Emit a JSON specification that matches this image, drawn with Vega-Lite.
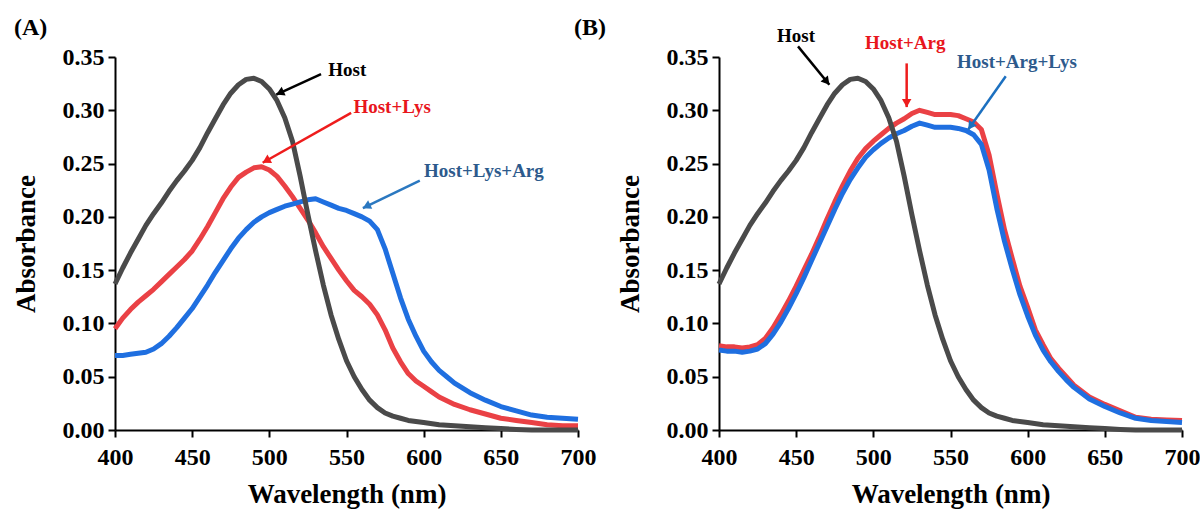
{
  "$schema": "https://vega.github.io/schema/vega-lite/v6.json",
  "padding": {"left": 12, "top": 16, "right": 2, "bottom": 2},
  "background": "white",
  "config": {
    "view": {"stroke": null},
    "font": "Times New Roman, Liberation Serif, DejaVu Serif, serif",
    "title": {"font": "Times New Roman, Liberation Serif, DejaVu Serif, serif", "fontSize": 24, "fontWeight": "bold", "color": "#000000", "anchor": "start", "frame": "group"},
    "axis": {
      "labelFont": "Times New Roman, Liberation Serif, DejaVu Serif, serif", "labelFontWeight": "bold", "labelFontSize": 24, "labelColor": "#000000",
      "titleFont": "Times New Roman, Liberation Serif, DejaVu Serif, serif", "titleFontWeight": "bold", "titleFontSize": 27, "titleColor": "#000000",
      "domainColor": "#000000", "domainWidth": 2, "tickColor": "#000000", "tickWidth": 2, "grid": false
    }
  },
  "bounds": "flush",
  "spacing": 141,
  "datasets": {
    "spectra": [
      {"panel":"A","series":"Host+Lys","wavelength":400,"absorbance":0.095},
      {"panel":"A","series":"Host+Lys","wavelength":405,"absorbance":0.105},
      {"panel":"A","series":"Host+Lys","wavelength":410,"absorbance":0.113},
      {"panel":"A","series":"Host+Lys","wavelength":415,"absorbance":0.120},
      {"panel":"A","series":"Host+Lys","wavelength":420,"absorbance":0.126},
      {"panel":"A","series":"Host+Lys","wavelength":425,"absorbance":0.132},
      {"panel":"A","series":"Host+Lys","wavelength":430,"absorbance":0.139},
      {"panel":"A","series":"Host+Lys","wavelength":435,"absorbance":0.146},
      {"panel":"A","series":"Host+Lys","wavelength":440,"absorbance":0.153},
      {"panel":"A","series":"Host+Lys","wavelength":445,"absorbance":0.160},
      {"panel":"A","series":"Host+Lys","wavelength":450,"absorbance":0.168},
      {"panel":"A","series":"Host+Lys","wavelength":455,"absorbance":0.179},
      {"panel":"A","series":"Host+Lys","wavelength":460,"absorbance":0.191},
      {"panel":"A","series":"Host+Lys","wavelength":465,"absorbance":0.204},
      {"panel":"A","series":"Host+Lys","wavelength":470,"absorbance":0.217},
      {"panel":"A","series":"Host+Lys","wavelength":475,"absorbance":0.228},
      {"panel":"A","series":"Host+Lys","wavelength":480,"absorbance":0.237},
      {"panel":"A","series":"Host+Lys","wavelength":485,"absorbance":0.242},
      {"panel":"A","series":"Host+Lys","wavelength":490,"absorbance":0.246},
      {"panel":"A","series":"Host+Lys","wavelength":495,"absorbance":0.247},
      {"panel":"A","series":"Host+Lys","wavelength":500,"absorbance":0.244},
      {"panel":"A","series":"Host+Lys","wavelength":505,"absorbance":0.238},
      {"panel":"A","series":"Host+Lys","wavelength":510,"absorbance":0.229},
      {"panel":"A","series":"Host+Lys","wavelength":515,"absorbance":0.219},
      {"panel":"A","series":"Host+Lys","wavelength":520,"absorbance":0.208},
      {"panel":"A","series":"Host+Lys","wavelength":525,"absorbance":0.197},
      {"panel":"A","series":"Host+Lys","wavelength":530,"absorbance":0.185},
      {"panel":"A","series":"Host+Lys","wavelength":535,"absorbance":0.172},
      {"panel":"A","series":"Host+Lys","wavelength":540,"absorbance":0.161},
      {"panel":"A","series":"Host+Lys","wavelength":545,"absorbance":0.150},
      {"panel":"A","series":"Host+Lys","wavelength":550,"absorbance":0.140},
      {"panel":"A","series":"Host+Lys","wavelength":555,"absorbance":0.131},
      {"panel":"A","series":"Host+Lys","wavelength":560,"absorbance":0.125},
      {"panel":"A","series":"Host+Lys","wavelength":565,"absorbance":0.118},
      {"panel":"A","series":"Host+Lys","wavelength":570,"absorbance":0.108},
      {"panel":"A","series":"Host+Lys","wavelength":575,"absorbance":0.094},
      {"panel":"A","series":"Host+Lys","wavelength":580,"absorbance":0.077},
      {"panel":"A","series":"Host+Lys","wavelength":585,"absorbance":0.064},
      {"panel":"A","series":"Host+Lys","wavelength":590,"absorbance":0.053},
      {"panel":"A","series":"Host+Lys","wavelength":595,"absorbance":0.046},
      {"panel":"A","series":"Host+Lys","wavelength":600,"absorbance":0.041},
      {"panel":"A","series":"Host+Lys","wavelength":605,"absorbance":0.036},
      {"panel":"A","series":"Host+Lys","wavelength":610,"absorbance":0.031},
      {"panel":"A","series":"Host+Lys","wavelength":620,"absorbance":0.024},
      {"panel":"A","series":"Host+Lys","wavelength":630,"absorbance":0.019},
      {"panel":"A","series":"Host+Lys","wavelength":640,"absorbance":0.015},
      {"panel":"A","series":"Host+Lys","wavelength":650,"absorbance":0.011},
      {"panel":"A","series":"Host+Lys","wavelength":660,"absorbance":0.009},
      {"panel":"A","series":"Host+Lys","wavelength":670,"absorbance":0.007},
      {"panel":"A","series":"Host+Lys","wavelength":680,"absorbance":0.005},
      {"panel":"A","series":"Host+Lys","wavelength":690,"absorbance":0.004},
      {"panel":"A","series":"Host+Lys","wavelength":700,"absorbance":0.004},

      {"panel":"A","series":"Host+Lys+Arg","wavelength":400,"absorbance":0.070},
      {"panel":"A","series":"Host+Lys+Arg","wavelength":405,"absorbance":0.070},
      {"panel":"A","series":"Host+Lys+Arg","wavelength":410,"absorbance":0.071},
      {"panel":"A","series":"Host+Lys+Arg","wavelength":415,"absorbance":0.072},
      {"panel":"A","series":"Host+Lys+Arg","wavelength":420,"absorbance":0.073},
      {"panel":"A","series":"Host+Lys+Arg","wavelength":425,"absorbance":0.076},
      {"panel":"A","series":"Host+Lys+Arg","wavelength":430,"absorbance":0.081},
      {"panel":"A","series":"Host+Lys+Arg","wavelength":435,"absorbance":0.088},
      {"panel":"A","series":"Host+Lys+Arg","wavelength":440,"absorbance":0.096},
      {"panel":"A","series":"Host+Lys+Arg","wavelength":445,"absorbance":0.105},
      {"panel":"A","series":"Host+Lys+Arg","wavelength":450,"absorbance":0.114},
      {"panel":"A","series":"Host+Lys+Arg","wavelength":455,"absorbance":0.125},
      {"panel":"A","series":"Host+Lys+Arg","wavelength":460,"absorbance":0.136},
      {"panel":"A","series":"Host+Lys+Arg","wavelength":465,"absorbance":0.148},
      {"panel":"A","series":"Host+Lys+Arg","wavelength":470,"absorbance":0.159},
      {"panel":"A","series":"Host+Lys+Arg","wavelength":475,"absorbance":0.170},
      {"panel":"A","series":"Host+Lys+Arg","wavelength":480,"absorbance":0.180},
      {"panel":"A","series":"Host+Lys+Arg","wavelength":485,"absorbance":0.188},
      {"panel":"A","series":"Host+Lys+Arg","wavelength":490,"absorbance":0.195},
      {"panel":"A","series":"Host+Lys+Arg","wavelength":495,"absorbance":0.200},
      {"panel":"A","series":"Host+Lys+Arg","wavelength":500,"absorbance":0.204},
      {"panel":"A","series":"Host+Lys+Arg","wavelength":505,"absorbance":0.207},
      {"panel":"A","series":"Host+Lys+Arg","wavelength":510,"absorbance":0.210},
      {"panel":"A","series":"Host+Lys+Arg","wavelength":515,"absorbance":0.212},
      {"panel":"A","series":"Host+Lys+Arg","wavelength":520,"absorbance":0.214},
      {"panel":"A","series":"Host+Lys+Arg","wavelength":525,"absorbance":0.216},
      {"panel":"A","series":"Host+Lys+Arg","wavelength":530,"absorbance":0.217},
      {"panel":"A","series":"Host+Lys+Arg","wavelength":535,"absorbance":0.214},
      {"panel":"A","series":"Host+Lys+Arg","wavelength":540,"absorbance":0.211},
      {"panel":"A","series":"Host+Lys+Arg","wavelength":545,"absorbance":0.208},
      {"panel":"A","series":"Host+Lys+Arg","wavelength":550,"absorbance":0.206},
      {"panel":"A","series":"Host+Lys+Arg","wavelength":555,"absorbance":0.203},
      {"panel":"A","series":"Host+Lys+Arg","wavelength":560,"absorbance":0.200},
      {"panel":"A","series":"Host+Lys+Arg","wavelength":565,"absorbance":0.196},
      {"panel":"A","series":"Host+Lys+Arg","wavelength":570,"absorbance":0.188},
      {"panel":"A","series":"Host+Lys+Arg","wavelength":575,"absorbance":0.170},
      {"panel":"A","series":"Host+Lys+Arg","wavelength":580,"absorbance":0.147},
      {"panel":"A","series":"Host+Lys+Arg","wavelength":585,"absorbance":0.124},
      {"panel":"A","series":"Host+Lys+Arg","wavelength":590,"absorbance":0.104},
      {"panel":"A","series":"Host+Lys+Arg","wavelength":595,"absorbance":0.088},
      {"panel":"A","series":"Host+Lys+Arg","wavelength":600,"absorbance":0.074},
      {"panel":"A","series":"Host+Lys+Arg","wavelength":605,"absorbance":0.064},
      {"panel":"A","series":"Host+Lys+Arg","wavelength":610,"absorbance":0.056},
      {"panel":"A","series":"Host+Lys+Arg","wavelength":615,"absorbance":0.050},
      {"panel":"A","series":"Host+Lys+Arg","wavelength":620,"absorbance":0.044},
      {"panel":"A","series":"Host+Lys+Arg","wavelength":630,"absorbance":0.035},
      {"panel":"A","series":"Host+Lys+Arg","wavelength":640,"absorbance":0.028},
      {"panel":"A","series":"Host+Lys+Arg","wavelength":650,"absorbance":0.022},
      {"panel":"A","series":"Host+Lys+Arg","wavelength":660,"absorbance":0.018},
      {"panel":"A","series":"Host+Lys+Arg","wavelength":670,"absorbance":0.014},
      {"panel":"A","series":"Host+Lys+Arg","wavelength":680,"absorbance":0.012},
      {"panel":"A","series":"Host+Lys+Arg","wavelength":690,"absorbance":0.011},
      {"panel":"A","series":"Host+Lys+Arg","wavelength":700,"absorbance":0.010},

      {"panel":"A","series":"Host","wavelength":400,"absorbance":0.137},
      {"panel":"A","series":"Host","wavelength":405,"absorbance":0.152},
      {"panel":"A","series":"Host","wavelength":410,"absorbance":0.166},
      {"panel":"A","series":"Host","wavelength":415,"absorbance":0.179},
      {"panel":"A","series":"Host","wavelength":420,"absorbance":0.192},
      {"panel":"A","series":"Host","wavelength":425,"absorbance":0.203},
      {"panel":"A","series":"Host","wavelength":430,"absorbance":0.213},
      {"panel":"A","series":"Host","wavelength":435,"absorbance":0.224},
      {"panel":"A","series":"Host","wavelength":440,"absorbance":0.234},
      {"panel":"A","series":"Host","wavelength":445,"absorbance":0.243},
      {"panel":"A","series":"Host","wavelength":450,"absorbance":0.253},
      {"panel":"A","series":"Host","wavelength":455,"absorbance":0.265},
      {"panel":"A","series":"Host","wavelength":460,"absorbance":0.279},
      {"panel":"A","series":"Host","wavelength":465,"absorbance":0.292},
      {"panel":"A","series":"Host","wavelength":470,"absorbance":0.305},
      {"panel":"A","series":"Host","wavelength":475,"absorbance":0.316},
      {"panel":"A","series":"Host","wavelength":480,"absorbance":0.324},
      {"panel":"A","series":"Host","wavelength":485,"absorbance":0.329},
      {"panel":"A","series":"Host","wavelength":490,"absorbance":0.330},
      {"panel":"A","series":"Host","wavelength":495,"absorbance":0.327},
      {"panel":"A","series":"Host","wavelength":500,"absorbance":0.320},
      {"panel":"A","series":"Host","wavelength":505,"absorbance":0.309},
      {"panel":"A","series":"Host","wavelength":510,"absorbance":0.293},
      {"panel":"A","series":"Host","wavelength":515,"absorbance":0.271},
      {"panel":"A","series":"Host","wavelength":520,"absorbance":0.238},
      {"panel":"A","series":"Host","wavelength":525,"absorbance":0.202},
      {"panel":"A","series":"Host","wavelength":530,"absorbance":0.168},
      {"panel":"A","series":"Host","wavelength":535,"absorbance":0.136},
      {"panel":"A","series":"Host","wavelength":540,"absorbance":0.108},
      {"panel":"A","series":"Host","wavelength":545,"absorbance":0.085},
      {"panel":"A","series":"Host","wavelength":550,"absorbance":0.065},
      {"panel":"A","series":"Host","wavelength":555,"absorbance":0.050},
      {"panel":"A","series":"Host","wavelength":560,"absorbance":0.038},
      {"panel":"A","series":"Host","wavelength":565,"absorbance":0.028},
      {"panel":"A","series":"Host","wavelength":570,"absorbance":0.021},
      {"panel":"A","series":"Host","wavelength":575,"absorbance":0.016},
      {"panel":"A","series":"Host","wavelength":580,"absorbance":0.013},
      {"panel":"A","series":"Host","wavelength":585,"absorbance":0.011},
      {"panel":"A","series":"Host","wavelength":590,"absorbance":0.009},
      {"panel":"A","series":"Host","wavelength":600,"absorbance":0.007},
      {"panel":"A","series":"Host","wavelength":610,"absorbance":0.005},
      {"panel":"A","series":"Host","wavelength":620,"absorbance":0.004},
      {"panel":"A","series":"Host","wavelength":630,"absorbance":0.003},
      {"panel":"A","series":"Host","wavelength":640,"absorbance":0.002},
      {"panel":"A","series":"Host","wavelength":650,"absorbance":0.0013},
      {"panel":"A","series":"Host","wavelength":660,"absorbance":0.0005},
      {"panel":"A","series":"Host","wavelength":670,"absorbance":0.0},
      {"panel":"A","series":"Host","wavelength":700,"absorbance":0.0},

      {"panel":"B","series":"Host+Arg","wavelength":400,"absorbance":0.079},
      {"panel":"B","series":"Host+Arg","wavelength":405,"absorbance":0.078},
      {"panel":"B","series":"Host+Arg","wavelength":410,"absorbance":0.078},
      {"panel":"B","series":"Host+Arg","wavelength":415,"absorbance":0.077},
      {"panel":"B","series":"Host+Arg","wavelength":420,"absorbance":0.078},
      {"panel":"B","series":"Host+Arg","wavelength":425,"absorbance":0.080},
      {"panel":"B","series":"Host+Arg","wavelength":430,"absorbance":0.086},
      {"panel":"B","series":"Host+Arg","wavelength":435,"absorbance":0.096},
      {"panel":"B","series":"Host+Arg","wavelength":440,"absorbance":0.108},
      {"panel":"B","series":"Host+Arg","wavelength":445,"absorbance":0.121},
      {"panel":"B","series":"Host+Arg","wavelength":450,"absorbance":0.135},
      {"panel":"B","series":"Host+Arg","wavelength":455,"absorbance":0.150},
      {"panel":"B","series":"Host+Arg","wavelength":460,"absorbance":0.165},
      {"panel":"B","series":"Host+Arg","wavelength":465,"absorbance":0.181},
      {"panel":"B","series":"Host+Arg","wavelength":470,"absorbance":0.198},
      {"panel":"B","series":"Host+Arg","wavelength":475,"absorbance":0.214},
      {"panel":"B","series":"Host+Arg","wavelength":480,"absorbance":0.229},
      {"panel":"B","series":"Host+Arg","wavelength":485,"absorbance":0.243},
      {"panel":"B","series":"Host+Arg","wavelength":490,"absorbance":0.255},
      {"panel":"B","series":"Host+Arg","wavelength":495,"absorbance":0.264},
      {"panel":"B","series":"Host+Arg","wavelength":500,"absorbance":0.271},
      {"panel":"B","series":"Host+Arg","wavelength":505,"absorbance":0.277},
      {"panel":"B","series":"Host+Arg","wavelength":510,"absorbance":0.283},
      {"panel":"B","series":"Host+Arg","wavelength":515,"absorbance":0.288},
      {"panel":"B","series":"Host+Arg","wavelength":520,"absorbance":0.292},
      {"panel":"B","series":"Host+Arg","wavelength":525,"absorbance":0.297},
      {"panel":"B","series":"Host+Arg","wavelength":530,"absorbance":0.300},
      {"panel":"B","series":"Host+Arg","wavelength":535,"absorbance":0.298},
      {"panel":"B","series":"Host+Arg","wavelength":540,"absorbance":0.296},
      {"panel":"B","series":"Host+Arg","wavelength":545,"absorbance":0.296},
      {"panel":"B","series":"Host+Arg","wavelength":550,"absorbance":0.296},
      {"panel":"B","series":"Host+Arg","wavelength":555,"absorbance":0.295},
      {"panel":"B","series":"Host+Arg","wavelength":560,"absorbance":0.292},
      {"panel":"B","series":"Host+Arg","wavelength":565,"absorbance":0.289},
      {"panel":"B","series":"Host+Arg","wavelength":570,"absorbance":0.282},
      {"panel":"B","series":"Host+Arg","wavelength":575,"absorbance":0.258},
      {"panel":"B","series":"Host+Arg","wavelength":580,"absorbance":0.222},
      {"panel":"B","series":"Host+Arg","wavelength":585,"absorbance":0.188},
      {"panel":"B","series":"Host+Arg","wavelength":590,"absorbance":0.161},
      {"panel":"B","series":"Host+Arg","wavelength":595,"absorbance":0.135},
      {"panel":"B","series":"Host+Arg","wavelength":600,"absorbance":0.115},
      {"panel":"B","series":"Host+Arg","wavelength":605,"absorbance":0.094},
      {"panel":"B","series":"Host+Arg","wavelength":610,"absorbance":0.080},
      {"panel":"B","series":"Host+Arg","wavelength":615,"absorbance":0.067},
      {"panel":"B","series":"Host+Arg","wavelength":620,"absorbance":0.058},
      {"panel":"B","series":"Host+Arg","wavelength":625,"absorbance":0.050},
      {"panel":"B","series":"Host+Arg","wavelength":630,"absorbance":0.042},
      {"panel":"B","series":"Host+Arg","wavelength":640,"absorbance":0.031},
      {"panel":"B","series":"Host+Arg","wavelength":650,"absorbance":0.024},
      {"panel":"B","series":"Host+Arg","wavelength":660,"absorbance":0.018},
      {"panel":"B","series":"Host+Arg","wavelength":670,"absorbance":0.012},
      {"panel":"B","series":"Host+Arg","wavelength":680,"absorbance":0.010},
      {"panel":"B","series":"Host+Arg","wavelength":690,"absorbance":0.0095},
      {"panel":"B","series":"Host+Arg","wavelength":700,"absorbance":0.009},

      {"panel":"B","series":"Host+Arg+Lys","wavelength":400,"absorbance":0.075},
      {"panel":"B","series":"Host+Arg+Lys","wavelength":405,"absorbance":0.074},
      {"panel":"B","series":"Host+Arg+Lys","wavelength":410,"absorbance":0.074},
      {"panel":"B","series":"Host+Arg+Lys","wavelength":415,"absorbance":0.073},
      {"panel":"B","series":"Host+Arg+Lys","wavelength":420,"absorbance":0.074},
      {"panel":"B","series":"Host+Arg+Lys","wavelength":425,"absorbance":0.076},
      {"panel":"B","series":"Host+Arg+Lys","wavelength":430,"absorbance":0.081},
      {"panel":"B","series":"Host+Arg+Lys","wavelength":435,"absorbance":0.090},
      {"panel":"B","series":"Host+Arg+Lys","wavelength":440,"absorbance":0.101},
      {"panel":"B","series":"Host+Arg+Lys","wavelength":445,"absorbance":0.114},
      {"panel":"B","series":"Host+Arg+Lys","wavelength":450,"absorbance":0.128},
      {"panel":"B","series":"Host+Arg+Lys","wavelength":455,"absorbance":0.143},
      {"panel":"B","series":"Host+Arg+Lys","wavelength":460,"absorbance":0.159},
      {"panel":"B","series":"Host+Arg+Lys","wavelength":465,"absorbance":0.175},
      {"panel":"B","series":"Host+Arg+Lys","wavelength":470,"absorbance":0.191},
      {"panel":"B","series":"Host+Arg+Lys","wavelength":475,"absorbance":0.207},
      {"panel":"B","series":"Host+Arg+Lys","wavelength":480,"absorbance":0.222},
      {"panel":"B","series":"Host+Arg+Lys","wavelength":485,"absorbance":0.235},
      {"panel":"B","series":"Host+Arg+Lys","wavelength":490,"absorbance":0.246},
      {"panel":"B","series":"Host+Arg+Lys","wavelength":495,"absorbance":0.256},
      {"panel":"B","series":"Host+Arg+Lys","wavelength":500,"absorbance":0.263},
      {"panel":"B","series":"Host+Arg+Lys","wavelength":505,"absorbance":0.269},
      {"panel":"B","series":"Host+Arg+Lys","wavelength":510,"absorbance":0.274},
      {"panel":"B","series":"Host+Arg+Lys","wavelength":515,"absorbance":0.278},
      {"panel":"B","series":"Host+Arg+Lys","wavelength":520,"absorbance":0.281},
      {"panel":"B","series":"Host+Arg+Lys","wavelength":525,"absorbance":0.285},
      {"panel":"B","series":"Host+Arg+Lys","wavelength":530,"absorbance":0.288},
      {"panel":"B","series":"Host+Arg+Lys","wavelength":535,"absorbance":0.286},
      {"panel":"B","series":"Host+Arg+Lys","wavelength":540,"absorbance":0.284},
      {"panel":"B","series":"Host+Arg+Lys","wavelength":545,"absorbance":0.284},
      {"panel":"B","series":"Host+Arg+Lys","wavelength":550,"absorbance":0.284},
      {"panel":"B","series":"Host+Arg+Lys","wavelength":555,"absorbance":0.283},
      {"panel":"B","series":"Host+Arg+Lys","wavelength":560,"absorbance":0.281},
      {"panel":"B","series":"Host+Arg+Lys","wavelength":565,"absorbance":0.277},
      {"panel":"B","series":"Host+Arg+Lys","wavelength":570,"absorbance":0.268},
      {"panel":"B","series":"Host+Arg+Lys","wavelength":575,"absorbance":0.244},
      {"panel":"B","series":"Host+Arg+Lys","wavelength":580,"absorbance":0.208},
      {"panel":"B","series":"Host+Arg+Lys","wavelength":585,"absorbance":0.177},
      {"panel":"B","series":"Host+Arg+Lys","wavelength":590,"absorbance":0.151},
      {"panel":"B","series":"Host+Arg+Lys","wavelength":595,"absorbance":0.127},
      {"panel":"B","series":"Host+Arg+Lys","wavelength":600,"absorbance":0.107},
      {"panel":"B","series":"Host+Arg+Lys","wavelength":605,"absorbance":0.089},
      {"panel":"B","series":"Host+Arg+Lys","wavelength":610,"absorbance":0.075},
      {"panel":"B","series":"Host+Arg+Lys","wavelength":615,"absorbance":0.064},
      {"panel":"B","series":"Host+Arg+Lys","wavelength":620,"absorbance":0.055},
      {"panel":"B","series":"Host+Arg+Lys","wavelength":625,"absorbance":0.047},
      {"panel":"B","series":"Host+Arg+Lys","wavelength":630,"absorbance":0.040},
      {"panel":"B","series":"Host+Arg+Lys","wavelength":640,"absorbance":0.029},
      {"panel":"B","series":"Host+Arg+Lys","wavelength":650,"absorbance":0.022},
      {"panel":"B","series":"Host+Arg+Lys","wavelength":660,"absorbance":0.016},
      {"panel":"B","series":"Host+Arg+Lys","wavelength":670,"absorbance":0.011},
      {"panel":"B","series":"Host+Arg+Lys","wavelength":680,"absorbance":0.009},
      {"panel":"B","series":"Host+Arg+Lys","wavelength":690,"absorbance":0.008},
      {"panel":"B","series":"Host+Arg+Lys","wavelength":700,"absorbance":0.007},

      {"panel":"B","series":"Host","wavelength":400,"absorbance":0.137},
      {"panel":"B","series":"Host","wavelength":405,"absorbance":0.152},
      {"panel":"B","series":"Host","wavelength":410,"absorbance":0.166},
      {"panel":"B","series":"Host","wavelength":415,"absorbance":0.179},
      {"panel":"B","series":"Host","wavelength":420,"absorbance":0.192},
      {"panel":"B","series":"Host","wavelength":425,"absorbance":0.203},
      {"panel":"B","series":"Host","wavelength":430,"absorbance":0.213},
      {"panel":"B","series":"Host","wavelength":435,"absorbance":0.224},
      {"panel":"B","series":"Host","wavelength":440,"absorbance":0.234},
      {"panel":"B","series":"Host","wavelength":445,"absorbance":0.243},
      {"panel":"B","series":"Host","wavelength":450,"absorbance":0.253},
      {"panel":"B","series":"Host","wavelength":455,"absorbance":0.265},
      {"panel":"B","series":"Host","wavelength":460,"absorbance":0.279},
      {"panel":"B","series":"Host","wavelength":465,"absorbance":0.292},
      {"panel":"B","series":"Host","wavelength":470,"absorbance":0.305},
      {"panel":"B","series":"Host","wavelength":475,"absorbance":0.316},
      {"panel":"B","series":"Host","wavelength":480,"absorbance":0.324},
      {"panel":"B","series":"Host","wavelength":485,"absorbance":0.329},
      {"panel":"B","series":"Host","wavelength":490,"absorbance":0.330},
      {"panel":"B","series":"Host","wavelength":495,"absorbance":0.327},
      {"panel":"B","series":"Host","wavelength":500,"absorbance":0.320},
      {"panel":"B","series":"Host","wavelength":505,"absorbance":0.309},
      {"panel":"B","series":"Host","wavelength":510,"absorbance":0.293},
      {"panel":"B","series":"Host","wavelength":515,"absorbance":0.271},
      {"panel":"B","series":"Host","wavelength":520,"absorbance":0.238},
      {"panel":"B","series":"Host","wavelength":525,"absorbance":0.202},
      {"panel":"B","series":"Host","wavelength":530,"absorbance":0.168},
      {"panel":"B","series":"Host","wavelength":535,"absorbance":0.136},
      {"panel":"B","series":"Host","wavelength":540,"absorbance":0.108},
      {"panel":"B","series":"Host","wavelength":545,"absorbance":0.085},
      {"panel":"B","series":"Host","wavelength":550,"absorbance":0.065},
      {"panel":"B","series":"Host","wavelength":555,"absorbance":0.050},
      {"panel":"B","series":"Host","wavelength":560,"absorbance":0.038},
      {"panel":"B","series":"Host","wavelength":565,"absorbance":0.028},
      {"panel":"B","series":"Host","wavelength":570,"absorbance":0.021},
      {"panel":"B","series":"Host","wavelength":575,"absorbance":0.016},
      {"panel":"B","series":"Host","wavelength":580,"absorbance":0.013},
      {"panel":"B","series":"Host","wavelength":585,"absorbance":0.011},
      {"panel":"B","series":"Host","wavelength":590,"absorbance":0.009},
      {"panel":"B","series":"Host","wavelength":600,"absorbance":0.007},
      {"panel":"B","series":"Host","wavelength":610,"absorbance":0.005},
      {"panel":"B","series":"Host","wavelength":620,"absorbance":0.004},
      {"panel":"B","series":"Host","wavelength":630,"absorbance":0.003},
      {"panel":"B","series":"Host","wavelength":640,"absorbance":0.002},
      {"panel":"B","series":"Host","wavelength":650,"absorbance":0.0013},
      {"panel":"B","series":"Host","wavelength":660,"absorbance":0.0005},
      {"panel":"B","series":"Host","wavelength":670,"absorbance":0.0},
      {"panel":"B","series":"Host","wavelength":700,"absorbance":0.0}
    ],
    "notes": [
      {"panel":"A","label":"Host","tx":538.2,"ty":0.3375,"ax":533.5,"ay":0.334,"bx":504.5,"by":0.3148},
      {"panel":"A","label":"Host+Lys","tx":554.5,"ty":0.303,"ax":553.0,"ay":0.2975,"bx":495.7,"by":0.2508},
      {"panel":"A","label":"Host+Lys+Arg","tx":600.2,"ty":0.243,"ax":597.5,"ay":0.2340,"bx":560.6,"by":0.2082},
      {"panel":"B","label":"Host","tx":437.6,"ty":0.3696,"ax":451.2,"ay":0.3600,"bx":471.5,"by":0.3240},
      {"panel":"B","label":"Host+Arg","tx":494.6,"ty":0.3635,"ax":521.6,"ay":0.3440,"bx":521.6,"by":0.3030},
      {"panel":"B","label":"Host+Arg+Lys","tx":554.2,"ty":0.3450,"ax":585.8,"ay":0.3320,"bx":561.5,"by":0.2820}
    ]
  },
  "hconcat": [
    {
      "width": 463, "height": 373,
      "title": {"text": "(A)", "dx": -101, "offset": 5},
      "layer": [
        {
          "data": {"name": "spectra"},
          "transform": [{"filter": "datum.panel == 'A'"}],
          "mark": {"type": "line", "strokeWidth": 5, "strokeJoin": "round"},
          "encoding": {
            "x": {"field": "wavelength", "type": "quantitative",
              "scale": {"domain": [400, 700], "nice": false, "zero": false},
              "axis": {"title": "Wavelength (nm)", "values": [400,425,450,475,500,525,550,575,600,625,650,675,700],
                "format": "d", "labelExpr": "datum.value % 50 == 0 ? datum.label : ''",
                "tickSize": {"condition": {"test": "datum.value % 50 == 0", "value": 7}, "value": 3.5},
                "labelPadding": 8, "titlePadding": 12, "labelFlush": false}},
            "y": {"field": "absorbance", "type": "quantitative",
              "scale": {"domain": [0, 0.35], "nice": false, "zero": false},
              "axis": {"title": "Absorbance", "values": [0,0.025,0.05,0.075,0.1,0.125,0.15,0.175,0.2,0.225,0.25,0.275,0.3,0.325,0.35],
                "format": ".2f", "labelExpr": "abs(datum.value*20 - round(datum.value*20)) < 0.001 ? format(datum.value, '.2f') : ''",
                "tickSize": {"condition": {"test": "abs(datum.value*20 - round(datum.value*20)) < 0.001", "value": 7}, "value": 3.5},
                "labelPadding": 4, "titlePadding": 22, "labelFlush": false}},
            "color": {"field": "series", "type": "nominal", "legend": null,
              "scale": {"domain": ["Host","Host+Lys","Host+Lys+Arg","Host+Arg","Host+Arg+Lys"],
                "range": ["#4a4a4a","#ea4145","#1f6fe0","#ea4145","#1f6fe0"]}}
          }
        },
        {
          "data": {"name": "notes"},
          "transform": [{"filter": "datum.panel == 'A'"}],
          "mark": {"type": "rule", "strokeWidth": 2.5},
          "encoding": {
            "x": {"field": "ax", "type": "quantitative"},
            "y": {"field": "ay", "type": "quantitative"},
            "x2": {"field": "bx"},
            "y2": {"field": "by"},
            "color": {"condition": [
              {"test": "datum.label == 'Host'", "value": "#000000"},
              {"test": "datum.label == 'Host+Lys' || datum.label == 'Host+Arg'", "value": "#ee1c1c"}],
              "value": "#2b78c0"}
          }
        },
        {
          "data": {"name": "notes"},
          "transform": [
            {"filter": "datum.panel == 'A'"},
            {"calculate": "sqrt(pow((datum.bx-datum.ax)*463/300,2)+pow((datum.by-datum.ay)*373/0.35,2))", "as": "pxlen"},
            {"calculate": "datum.bx - (datum.bx-datum.ax)*4/datum.pxlen", "as": "hx"},
            {"calculate": "datum.by - (datum.by-datum.ay)*4/datum.pxlen", "as": "hy"},
            {"calculate": "atan2((datum.bx-datum.ax)*463/300, (datum.by-datum.ay)*373/0.35)*180/PI", "as": "ang"}
          ],
          "mark": {"type": "point", "shape": "triangle-up", "filled": true, "size": 90, "opacity": 1},
          "encoding": {
            "x": {"field": "hx", "type": "quantitative"},
            "y": {"field": "hy", "type": "quantitative"},
            "angle": {"field": "ang", "type": "quantitative", "scale": null},
            "color": {"condition": [
              {"test": "datum.label == 'Host'", "value": "#000000"},
              {"test": "datum.label == 'Host+Lys' || datum.label == 'Host+Arg'", "value": "#ee1c1c"}],
              "value": "#2b78c0"}
          }
        },
        {
          "data": {"name": "notes"},
          "transform": [{"filter": "datum.panel == 'A'"}],
          "mark": {"type": "text", "align": "left", "baseline": "middle", "font": "Times New Roman, Liberation Serif, DejaVu Serif, serif", "fontWeight": "bold", "fontSize": 19},
          "encoding": {
            "x": {"field": "tx", "type": "quantitative"},
            "y": {"field": "ty", "type": "quantitative"},
            "text": {"field": "label"},
            "color": {"condition": [
              {"test": "datum.label == 'Host'", "value": "#000000"},
              {"test": "datum.label == 'Host+Lys' || datum.label == 'Host+Arg'", "value": "#e8161c"}],
              "value": "#2d5a8c"}
          }
        }
      ]
    },
    {
      "width": 463, "height": 373,
      "title": {"text": "(B)", "dx": -145, "offset": -13},
      "layer": [
        {
          "data": {"name": "spectra"},
          "transform": [{"filter": "datum.panel == 'B'"}],
          "mark": {"type": "line", "strokeWidth": 5, "strokeJoin": "round"},
          "encoding": {
            "x": {"field": "wavelength", "type": "quantitative",
              "scale": {"domain": [400, 700], "nice": false, "zero": false},
              "axis": {"title": "Wavelength (nm)", "values": [400,425,450,475,500,525,550,575,600,625,650,675,700],
                "format": "d", "labelExpr": "datum.value % 50 == 0 ? datum.label : ''",
                "tickSize": {"condition": {"test": "datum.value % 50 == 0", "value": 7}, "value": 3.5},
                "labelPadding": 8, "titlePadding": 12, "labelFlush": false}},
            "y": {"field": "absorbance", "type": "quantitative",
              "scale": {"domain": [0, 0.35], "nice": false, "zero": false},
              "axis": {"title": "Absorbance", "values": [0,0.025,0.05,0.075,0.1,0.125,0.15,0.175,0.2,0.225,0.25,0.275,0.3,0.325,0.35],
                "format": ".2f", "labelExpr": "abs(datum.value*20 - round(datum.value*20)) < 0.001 ? format(datum.value, '.2f') : ''",
                "tickSize": {"condition": {"test": "abs(datum.value*20 - round(datum.value*20)) < 0.001", "value": 7}, "value": 3.5},
                "labelPadding": 4, "titlePadding": 22, "labelFlush": false}},
            "color": {"field": "series", "type": "nominal", "legend": null,
              "scale": {"domain": ["Host","Host+Lys","Host+Lys+Arg","Host+Arg","Host+Arg+Lys"],
                "range": ["#4a4a4a","#ea4145","#1f6fe0","#ea4145","#1f6fe0"]}}
          }
        },
        {
          "data": {"name": "notes"},
          "transform": [{"filter": "datum.panel == 'B'"}],
          "mark": {"type": "rule", "strokeWidth": 2.5},
          "encoding": {
            "x": {"field": "ax", "type": "quantitative"},
            "y": {"field": "ay", "type": "quantitative"},
            "x2": {"field": "bx"},
            "y2": {"field": "by"},
            "color": {"condition": [
              {"test": "datum.label == 'Host'", "value": "#000000"},
              {"test": "datum.label == 'Host+Lys' || datum.label == 'Host+Arg'", "value": "#ee1c1c"}],
              "value": "#1c70c0"}
          }
        },
        {
          "data": {"name": "notes"},
          "transform": [
            {"filter": "datum.panel == 'B'"},
            {"calculate": "sqrt(pow((datum.bx-datum.ax)*463/300,2)+pow((datum.by-datum.ay)*373/0.35,2))", "as": "pxlen"},
            {"calculate": "datum.bx - (datum.bx-datum.ax)*4/datum.pxlen", "as": "hx"},
            {"calculate": "datum.by - (datum.by-datum.ay)*4/datum.pxlen", "as": "hy"},
            {"calculate": "atan2((datum.bx-datum.ax)*463/300, (datum.by-datum.ay)*373/0.35)*180/PI", "as": "ang"}
          ],
          "mark": {"type": "point", "shape": "triangle-up", "filled": true, "size": 90, "opacity": 1},
          "encoding": {
            "x": {"field": "hx", "type": "quantitative"},
            "y": {"field": "hy", "type": "quantitative"},
            "angle": {"field": "ang", "type": "quantitative", "scale": null},
            "color": {"condition": [
              {"test": "datum.label == 'Host'", "value": "#000000"},
              {"test": "datum.label == 'Host+Lys' || datum.label == 'Host+Arg'", "value": "#ee1c1c"}],
              "value": "#1c70c0"}
          }
        },
        {
          "data": {"name": "notes"},
          "transform": [{"filter": "datum.panel == 'B'"}],
          "mark": {"type": "text", "align": "left", "baseline": "middle", "font": "Times New Roman, Liberation Serif, DejaVu Serif, serif", "fontWeight": "bold", "fontSize": 19},
          "encoding": {
            "x": {"field": "tx", "type": "quantitative"},
            "y": {"field": "ty", "type": "quantitative"},
            "text": {"field": "label"},
            "color": {"condition": [
              {"test": "datum.label == 'Host'", "value": "#000000"},
              {"test": "datum.label == 'Host+Lys' || datum.label == 'Host+Arg'", "value": "#e8161c"}],
              "value": "#2d5a8c"}
          }
        }
      ]
    }
  ]
}
